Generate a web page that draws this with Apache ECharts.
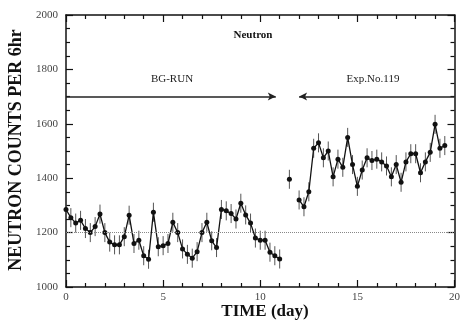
<!DOCTYPE html>
<html>
<head>
<meta charset="utf-8">
<script src="https://cdn.jsdelivr.net/npm/echarts@6/dist/echarts.min.js"></script>
<style>
  html, body { margin: 0; padding: 0; background: #fff; }
  #chart { width: 463px; height: 321px; }
</style>
</head>
<body>
<div id="chart"></div>
<script>
// neutron counts per 6 hr, sampled every 0.25 day
var sampleStep = 0.25;
var bgStart = 0;
var bgCounts = [1285, 1255, 1235, 1245, 1215, 1200, 1222, 1268, 1200, 1165, 1155, 1155,
  1185, 1264, 1160, 1172, 1115, 1102, 1275, 1148, 1152, 1160, 1238, 1200, 1140, 1120,
  1106, 1130, 1200, 1238, 1170, 1145, 1285, 1280, 1270, 1250, 1308, 1265, 1235, 1180,
  1172, 1172, 1128, 1115, 1103];
var lonePoint = [11.5, 1396];
var expStart = 12.0;
var expCounts = [1320, 1295, 1350, 1510, 1530, 1475, 1500, 1405, 1470, 1440, 1550, 1450,
  1370, 1430, 1475, 1465, 1470, 1460, 1445, 1405, 1450, 1385, 1460, 1490, 1490, 1420,
  1460, 1495, 1598, 1510, 1520];
var errHalf = 35;
var baseline = 1200;
var arrowLevel = 1700;
var bgArrow = [0, 10.8];
var expArrow = [12.0, 20];

var serif = '"Liberation Serif", "DejaVu Serif", serif';

function toPoints(start, counts) {
  var pts = [];
  for (var i = 0; i < counts.length; i++) {
    pts.push([start + i * sampleStep, counts[i], errHalf]);
  }
  return pts;
}
var bgPts = toPoints(bgStart, bgCounts);
var expPts = toPoints(expStart, expCounts);
var lonePts = [[lonePoint[0], lonePoint[1], errHalf]];
var allPts = bgPts.concat(lonePts, expPts);

function errorBar(params, api) {
  var x = api.value(0), y = api.value(1), e = api.value(2);
  var hi = api.coord([x, y + e]);
  var lo = api.coord([x, y - e]);
  return {
    type: 'line',
    shape: { x1: hi[0], y1: hi[1], x2: lo[0], y2: lo[1] },
    style: { stroke: '#555', lineWidth: 1 }
  };
}

function axisDef(pos, showLabel, min, max, interval, minorSplit) {
  return {
    type: 'value', position: pos, min: min, max: max, interval: interval,
    axisLine: { show: true, onZero: false, lineStyle: { color: '#111', width: 1.5 } },
    axisTick: { show: true, inside: true, length: 7, lineStyle: { color: '#111', width: 1.2 } },
    minorTick: { show: true, splitNumber: minorSplit, length: 4, lineStyle: { color: '#111', width: 1.2 } },
    splitLine: { show: false },
    axisLabel: {
      show: showLabel, color: '#444', fontFamily: serif, fontSize: 11,
      margin: pos === 'left' ? 8 : 5,
      formatter: function (v) { return String(v); }
    }
  };
}

var chart = echarts.init(document.getElementById('chart'));
chart.setOption({
  animation: false,
  grid: { left: 66, right: 8, top: 15, bottom: 34 },
  xAxis: [axisDef('bottom', true, 0, 20, 5, 5), axisDef('top', false, 0, 20, 5, 5)],
  yAxis: [axisDef('left', true, 1000, 2000, 200, 4), axisDef('right', false, 1000, 2000, 200, 4)],
  graphic: [
    { type: 'text', x: 253, y: 35, style: { text: 'Neutron', font: 'bold 11px ' + serif, fill: '#111', align: 'center', verticalAlign: 'middle' } },
    { type: 'text', x: 172, y: 79, style: { text: 'BG-RUN', font: '11px ' + serif, fill: '#222', align: 'center', verticalAlign: 'middle' } },
    { type: 'text', x: 373, y: 79, style: { text: 'Exp.No.119', font: '11px ' + serif, fill: '#222', align: 'center', verticalAlign: 'middle' } },
    { type: 'text', x: 265, y: 312, style: { text: 'TIME (day)', font: 'bold 17px ' + serif, fill: '#111', align: 'center', verticalAlign: 'middle' } },
    { type: 'text', x: 16, y: 150, rotation: Math.PI / 2, style: { text: 'NEUTRON COUNTS PER 6hr', font: 'bold 18px ' + serif, fill: '#111', align: 'center', verticalAlign: 'middle' } }
  ],
  series: [
    {
      type: 'custom', renderItem: errorBar, data: allPts,
      encode: { x: 0, y: 1 }
    },
    {
      type: 'line', data: bgPts, symbol: 'circle', symbolSize: 5,
      lineStyle: { color: '#111', width: 1.3 }, itemStyle: { color: '#111' },
      markLine: {
        silent: true, symbol: 'none', label: { show: false },
        data: [
          [{ coord: [0, baseline], lineStyle: { color: '#888', type: 'dotted', width: 1 } },
           { coord: [20, baseline] }],
          [{ coord: [bgArrow[0], arrowLevel], symbol: 'none', lineStyle: { color: '#222', type: 'solid', width: 1.5 } },
           { coord: [bgArrow[1], arrowLevel], symbol: 'arrow', symbolSize: [6, 8] }],
          [{ coord: [expArrow[0], arrowLevel], symbol: 'arrow', symbolSize: [6, 8], symbolRotate: 90, lineStyle: { color: '#222', type: 'solid', width: 1.5 } },
           { coord: [expArrow[1], arrowLevel], symbol: 'none' }]
        ]
      }
    },
    {
      type: 'line', data: lonePts, symbol: 'circle', symbolSize: 5,
      itemStyle: { color: '#111' }
    },
    {
      type: 'line', data: expPts, symbol: 'circle', symbolSize: 5,
      lineStyle: { color: '#111', width: 1.3 }, itemStyle: { color: '#111' }
    }
  ]
});
</script>
</body>
</html>
